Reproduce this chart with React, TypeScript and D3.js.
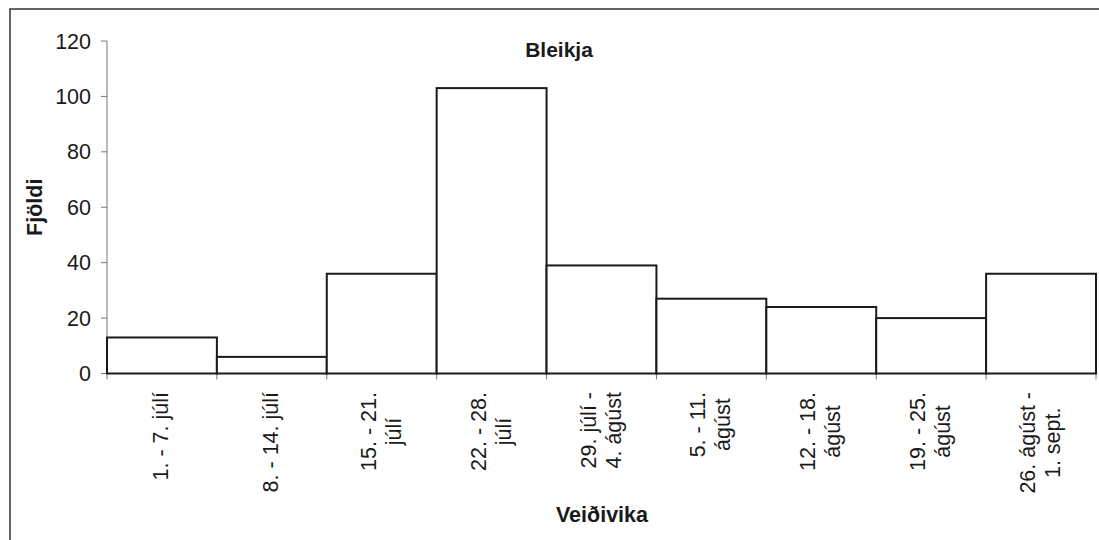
import { useEffect, useRef } from "react";
import * as d3 from "d3";

const CATEGORIES: string[][] = [
  ["1. - 7. júlí"],
  ["8. - 14. júlí"],
  ["15. - 21.", "júlí"],
  ["22. - 28.", "júlí"],
  ["29. júlí -", "4. ágúst"],
  ["5. - 11.", "ágúst"],
  ["12. - 18.", "ágúst"],
  ["19. - 25.", "ágúst"],
  ["26. ágúst -", "1. sept."],
];
const VALUES = [13, 6, 36, 103, 39, 27, 24, 20, 36];
const Y_TICKS = [0, 20, 40, 60, 80, 100, 120];

const W = 1099, H = 540;
const FONT = "Arial, 'Liberation Sans', sans-serif";

export default function App() {
  const svgRef = useRef<SVGSVGElement>(null);

  useEffect(() => {
    if (!svgRef.current) return;
    const svg = d3.select(svgRef.current);
    svg.selectAll("*").remove();

    const left = 107, right = 1096, top = 41, bottom = 373.5;

    const x = d3.scaleBand<number>()
      .domain(d3.range(CATEGORIES.length))
      .range([left, right])
      .padding(0);
    const y = d3.scaleLinear().domain([0, 120]).range([bottom, top]);

    // outer frame (cropped scan: only top and left visible)
    svg.append("path")
      .attr("d", `M10,${H} L10,9 L${W},9`)
      .attr("fill", "none")
      .attr("stroke", "#333")
      .attr("stroke-width", 1.5);

    // y axis
    svg.append("line")
      .attr("x1", left).attr("x2", left)
      .attr("y1", y(120)).attr("y2", y(0))
      .attr("stroke", "#777").attr("stroke-width", 1);
    const yt = svg.append("g");
    yt.selectAll("line").data(Y_TICKS).join("line")
      .attr("x1", left - 6).attr("x2", left)
      .attr("y1", (d) => y(d)).attr("y2", (d) => y(d))
      .attr("stroke", "#777");
    yt.selectAll("text").data(Y_TICKS).join("text")
      .attr("x", left - 16)
      .attr("y", (d) => y(d))
      .attr("dy", "0.35em")
      .attr("text-anchor", "end")
      .attr("font-family", FONT)
      .attr("font-size", 21.5)
      .attr("fill", "#1a1a1a")
      .text((d) => d);

    // x axis
    svg.append("line")
      .attr("x1", left).attr("x2", right)
      .attr("y1", bottom).attr("y2", bottom)
      .attr("stroke", "#777");
    const bounds = d3.range(CATEGORIES.length + 1).map((i) =>
      i < CATEGORIES.length ? (x(i) as number) : right
    );
    svg.append("g").selectAll("line").data(bounds).join("line")
      .attr("x1", (d) => d).attr("x2", (d) => d)
      .attr("y1", bottom).attr("y2", bottom + 6)
      .attr("stroke", "#777");

    // bars
    svg.append("g").selectAll("rect").data(VALUES).join("rect")
      .attr("x", (_, i) => x(i) as number)
      .attr("y", (d) => y(d))
      .attr("width", x.bandwidth())
      .attr("height", (d) => y(0) - y(d))
      .attr("fill", "#fff")
      .attr("stroke", "#1a1a1a")
      .attr("stroke-width", 2);

    // category labels, rotated
    const labelTop = 392, lh = 25;
    CATEGORIES.forEach((lines, i) => {
      const cx = (x(i) as number) + x.bandwidth() / 2 - 1;
      const g = svg.append("g")
        .attr("transform", `translate(${cx},${labelTop}) rotate(-90)`);
      const texts = g.selectAll("text").data(lines).join("text")
        .attr("font-family", FONT)
        .attr("font-size", 21.5)
        .attr("fill", "#1a1a1a")
        .attr("text-anchor", "middle")
        .attr("y", (_, j) => (j - (lines.length - 1) / 2) * lh)
        .attr("dy", "0.35em")
        .text((d) => d);
      let maxW = 0;
      texts.each(function () {
        maxW = Math.max(maxW, (this as SVGTextElement).getComputedTextLength());
      });
      texts.attr("x", -maxW / 2);
    });

    // titles
    svg.append("text")
      .attr("x", 559).attr("y", 57)
      .attr("text-anchor", "middle")
      .attr("font-family", FONT).attr("font-weight", "bold").attr("font-size", 21)
      .attr("fill", "#1a1a1a")
      .text("Bleikja");
    svg.append("text")
      .attr("x", 602).attr("y", 522)
      .attr("text-anchor", "middle")
      .attr("font-family", FONT).attr("font-weight", "bold").attr("font-size", 21.5)
      .attr("fill", "#1a1a1a")
      .text("Veiðivika");
    svg.append("text")
      .attr("transform", `translate(42,${(top + bottom) / 2}) rotate(-90)`)
      .attr("text-anchor", "middle")
      .attr("font-family", FONT).attr("font-weight", "bold").attr("font-size", 21.5)
      .attr("fill", "#1a1a1a")
      .text("Fjöldi");
  }, []);

  return (
    <svg
      ref={svgRef}
      width={W}
      height={H}
      style={{ position: "absolute", left: 0, top: 0, background: "#fff" }}
    />
  );
}
